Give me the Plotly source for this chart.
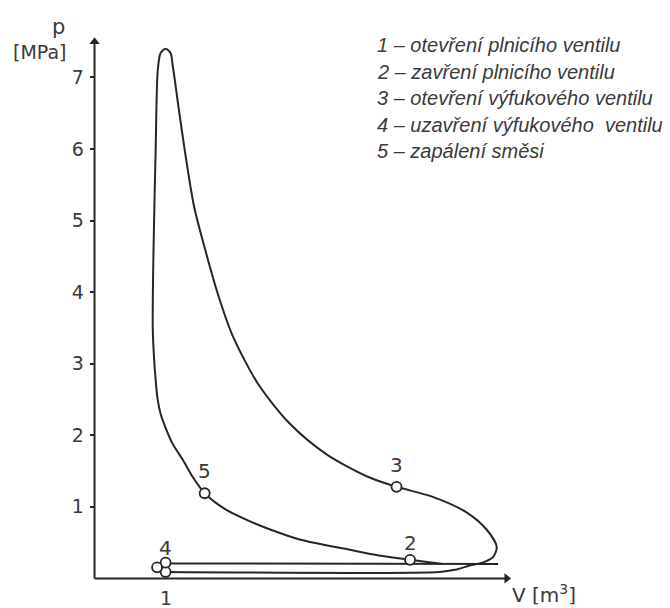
import plotly.graph_objects as go

# p-V diagram of a four-stroke engine (V in multiples of clearance volume, p in MPa)
cycle_V = [4.90, 4.44, 4.00, 3.59, 2.90, 2.51, 2.18, 1.85, 1.55, 1.38, 1.24, 1.10,
           1.01, 0.93, 0.89, 0.85, 0.82, 0.83, 0.86, 0.89, 0.93, 1.00, 1.07, 1.10,
           1.18, 1.27, 1.40, 1.55, 1.74, 1.94, 2.30, 2.75, 3.27, 3.87, 4.25, 4.76,
           5.24, 5.52, 5.66, 5.61, 5.46, 5.28, 5.07, 4.86, 0.97]
cycle_p = [0.20, 0.26, 0.32, 0.40, 0.54, 0.67, 0.80, 0.96, 1.19, 1.42, 1.66, 1.88,
           2.08, 2.30, 2.49, 2.90, 3.47, 4.59, 5.98, 7.10, 7.34, 7.40, 7.34, 7.17,
           6.60, 5.98, 5.20, 4.62, 3.96, 3.40, 2.72, 2.16, 1.73, 1.41, 1.28, 1.14,
           0.92, 0.68, 0.44, 0.30, 0.22, 0.18, 0.12, 0.09, 0.09]

exhaust_V = [0.97, 5.68]
exhaust_p = [0.21, 0.20]

point_names = ["1", "2", "3", "4", "5", ""]
point_V = [1.00, 4.44, 4.25, 1.00, 1.55, 0.88]
point_p = [0.09, 0.26, 1.28, 0.22, 1.19, 0.155]
label_shift = [0, 17, 22, 15, 22, 0]

# axis extents (arrow tips)
v_axis_end = 5.80
p_axis_end = 7.50

y_ticks = [1, 2, 3, 4, 5, 6, 7]
x_ticks = [1]

legend_lines = [
    "1 – otevření plnicího ventilu",
    "2 – zavření plnicího ventilu",
    "3 – otevření výfukového ventilu",
    "4 – uzavření výfukového  ventilu",
    "5 – zapálení směsi",
]

ink = "#262626"
txt = "#3a3a3a"
font_main = "DejaVu Sans"

X_MIN, X_MAX = -0.12, 8.0

fig = go.Figure()
# axes drawn as lines with arrowheads
fig.add_trace(go.Scatter(x=[0, 0], y=[0, p_axis_end], mode="lines",
                         line=dict(color=ink, width=2), hoverinfo="skip"))
fig.add_trace(go.Scatter(x=[0, v_axis_end], y=[0, 0], mode="lines",
                         line=dict(color=ink, width=2), hoverinfo="skip"))
fig.add_trace(go.Scatter(x=[0], y=[p_axis_end], mode="markers", cliponaxis=False,
                         marker=dict(symbol="triangle-up", size=9, color=ink,
                                     line=dict(width=0)), hoverinfo="skip"))
fig.add_trace(go.Scatter(x=[v_axis_end], y=[0], mode="markers", cliponaxis=False,
                         marker=dict(symbol="triangle-right", size=9, color=ink,
                                     line=dict(width=0)), hoverinfo="skip"))

fig.add_trace(go.Scatter(x=cycle_V, y=cycle_p, mode="lines",
                         line=dict(color=ink, width=2, shape="spline", smoothing=0.8),
                         hoverinfo="skip"))
fig.add_trace(go.Scatter(x=exhaust_V, y=exhaust_p, mode="lines",
                         line=dict(color=ink, width=2), hoverinfo="skip"))
fig.add_trace(go.Scatter(x=point_V, y=point_p, mode="markers", cliponaxis=False,
                         marker=dict(symbol="circle", size=10, color="white",
                                     line=dict(color=ink, width=1.8)),
                         hoverinfo="skip"))

annotations = []
# point labels (2..5; "1" sits at the V axis tick)
for name, v, p, s in zip(point_names, point_V, point_p, label_shift):
    if name and name != "1":
        annotations.append(dict(x=v, y=p, xref="x", yref="y", text=name, showarrow=False,
                                yshift=s, font=dict(family=font_main, size=20, color=txt)))

# V-axis tick label(s)
for t in x_ticks:
    annotations.append(dict(x=t, y=-0.019, xref="x", yref="paper", text=str(t), showarrow=False,
                            xanchor="center", yanchor="middle",
                            font=dict(family=font_main, size=19, color=txt)))

# axis titles (paper coordinates so they may sit outside the plot area)
annotations.append(dict(x=-0.047, y=0.975, xref="paper", yref="paper", text="p", showarrow=False,
                        xanchor="center", yanchor="middle",
                        font=dict(family=font_main, size=21, color=txt)))
annotations.append(dict(x=-0.080, y=0.932, xref="paper", yref="paper", text="[MPa]", showarrow=False,
                        xanchor="center", yanchor="middle",
                        font=dict(family=font_main, size=19, color=txt)))
annotations.append(dict(x=0.794, y=-0.013, xref="paper", yref="paper", text="V [m<sup>3</sup>]",
                        showarrow=False, xanchor="center", yanchor="middle",
                        font=dict(family=font_main, size=20, color=txt)))

# legend text
for i, line in enumerate(legend_lines):
    annotations.append(dict(x=3.94, y=7.45 - i * 0.37, xref="x", yref="y", text="<i>" + line + "</i>",
                            showarrow=False, xanchor="left", yanchor="middle",
                            font=dict(family="Liberation Sans Narrow, Liberation Sans", size=20, color=txt)))

fig.update_layout(
    width=670, height=608,
    margin=dict(l=86, r=7, t=13, b=21),
    paper_bgcolor="white", plot_bgcolor="white",
    showlegend=False,
    annotations=annotations,
    xaxis=dict(range=[X_MIN, X_MAX], showgrid=False, zeroline=False, showline=False,
               showticklabels=False, ticks="", fixedrange=True),
    yaxis=dict(range=[-0.12, 7.9], showgrid=False, zeroline=False, showline=False,
               anchor="free", position=(0 - X_MIN) / (X_MAX - X_MIN),
               tickvals=y_ticks, ticks="outside", ticklen=5, tickwidth=2, tickcolor=ink,
               ticklabelstandoff=2,
               tickfont=dict(family=font_main, size=19, color=txt), fixedrange=True),
)

fig.write_html("out.html", config={"displayModeBar": False},
               post_script="document.body.style.margin='0px';")
